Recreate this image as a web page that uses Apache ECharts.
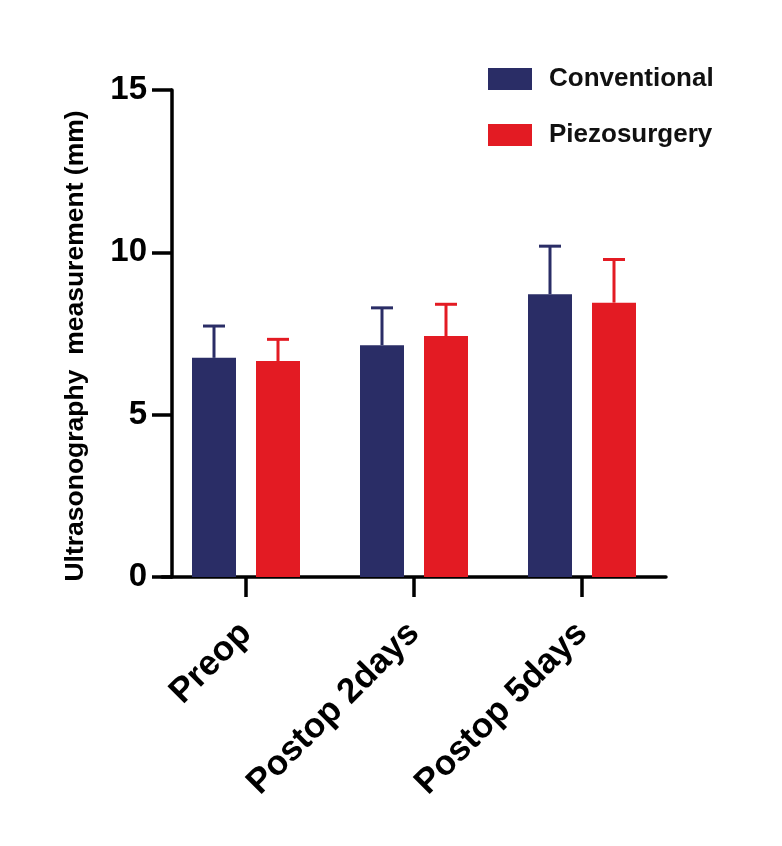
<!DOCTYPE html>
<html>
<head>
<meta charset="utf-8">
<script src="https://cdn.jsdelivr.net/npm/echarts@6/dist/echarts.min.js"></script>
<style>
html,body{margin:0;padding:0;background:#fff;}
#chart{width:782px;height:846px;}
</style>
</head>
<body>
<div id="chart"></div>
<script>
var categories = ['Preop', 'Postop 2days', 'Postop 5days'];
var seriesNames = ['Conventional', 'Piezosurgery'];
var conventionalMean = [6.75, 7.14, 8.71];
var conventionalSD = [0.98, 1.15, 1.48];
var piezoMean = [6.65, 7.42, 8.45];
var piezoSD = [0.67, 0.98, 1.33];
var yTicks = [0, 5, 10, 15];

var colors = ['#2a2d66', '#e31b23'];
var barWidth = 44, barGapPx = 20;
var off = (barWidth + barGapPx) / 2;

function errData(mean, sd) {
  return mean.map(function (m, i) { return [i, m, +(m + sd[i]).toFixed(3)]; });
}
function errRender(offset, color) {
  return function (params, api) {
    var base = api.coord([api.value(0), api.value(1)]);
    var top = api.coord([api.value(0), api.value(2)]);
    var cx = base[0] + offset;
    return {
      type: 'group',
      children: [
        { type: 'line', shape: { x1: cx, y1: base[1], x2: cx, y2: top[1] }, style: { stroke: color, lineWidth: 3 } },
        { type: 'line', shape: { x1: cx - 11, y1: top[1], x2: cx + 11, y2: top[1] }, style: { stroke: color, lineWidth: 3 } }
      ]
    };
  };
}

var chart = echarts.init(document.getElementById('chart'), null, { renderer: 'canvas' });
var fontFam = '"Liberation Sans", Arial, sans-serif';
chart.setOption({
  animation: false,
  backgroundColor: '#ffffff',
  grid: { left: 162, right: 116, top: 90, bottom: 269, containLabel: false },
  legend: {
    orient: 'vertical',
    left: 483,
    top: 61,
    itemWidth: 44,
    itemHeight: 22,
    itemGap: 30,
    icon: 'rect',
    data: seriesNames,
    textStyle: { fontFamily: fontFam, fontWeight: 'bold', fontSize: 26, color: '#111', padding: [0, 0, 0, 12] }
  },
  xAxis: {
    type: 'category',
    data: categories,
    axisLine: { lineStyle: { color: '#000', width: 3.5 } },
    axisTick: { show: true, alignWithLabel: true, length: 20, lineStyle: { color: '#000', width: 3.5 } },
    axisLabel: { rotate: 45, margin: 51, color: '#000', fontFamily: fontFam, fontWeight: 'bold', fontSize: 35, interval: 0 }
  },
  yAxis: {
    type: 'value',
    min: yTicks[0],
    max: yTicks[yTicks.length - 1],
    interval: 5,
    offset: -10,
    splitLine: { show: false },
    axisLine: { show: true, lineStyle: { color: '#000', width: 3.5 } },
    axisTick: { show: true, length: 20, lineStyle: { color: '#000', width: 3.5 } },
    axisLabel: { margin: 25, color: '#000', fontFamily: fontFam, fontWeight: 'bold', fontSize: 33 }
  },
  graphic: [{
    type: 'text',
    x: 76, y: 346,
    rotation: Math.PI / 2,
    style: {
      text: 'Ultrasonography  measurement (mm)',
      fontFamily: fontFam, fontWeight: 'bold', fontSize: 26.5, fill: '#000',
      textAlign: 'center', textVerticalAlign: 'middle'
    }
  }],
  series: [
    { name: seriesNames[0], type: 'bar', data: conventionalMean, barWidth: barWidth, barGap: (barGapPx / barWidth * 100) + '%', itemStyle: { color: colors[0] }, z: 2 },
    { name: seriesNames[1], type: 'bar', data: piezoMean, barWidth: barWidth, barGap: (barGapPx / barWidth * 100) + '%', itemStyle: { color: colors[1] }, z: 2 },
    { name: 'err1', type: 'custom', data: errData(conventionalMean, conventionalSD), encode: { x: 0, y: [1, 2] }, renderItem: errRender(-off, colors[0]), z: 3 },
    { name: 'err2', type: 'custom', data: errData(piezoMean, piezoSD), encode: { x: 0, y: [1, 2] }, renderItem: errRender(off, colors[1]), z: 3 }
  ]
});
</script>
</body>
</html>
